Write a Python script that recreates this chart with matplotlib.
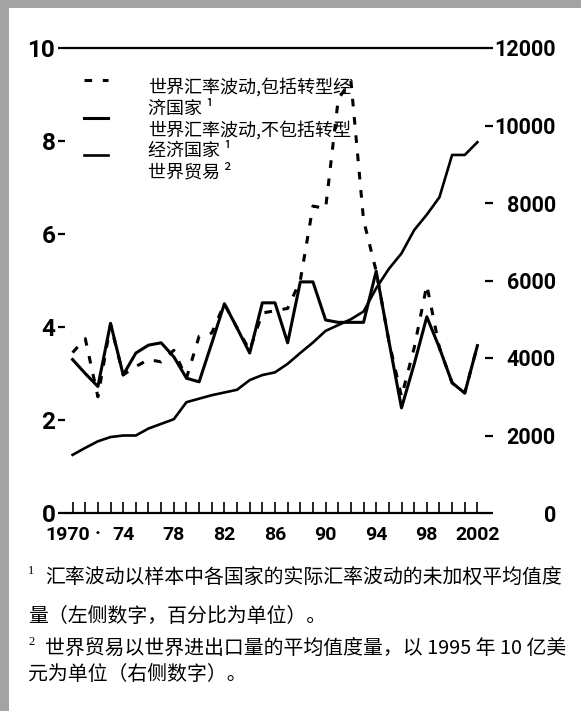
import matplotlib.pyplot as plt
from matplotlib.patches import Rectangle
from matplotlib.transforms import ScaledTranslation

plt.rcParams['font.family'] = ['Noto Sans CJK SC', 'DejaVu Sans']

# yearly values
years = list(range(1970, 2003))

# exchange rate volatility incl. transition economies (left axis, %)
fx_incl = [3.45, 3.75, 2.5, 4.05, 2.97, 3.15, 3.3, 3.25, 3.5, 2.9,
           3.8, 3.87, 4.5, 3.98, 3.5, 4.3, 4.35, 4.4, 5.0, 6.6,
           6.55, 8.9, 9.3, 6.3, 5.2, 3.7, 2.5, 3.55, 4.9, 3.55,
           2.8, 2.58, 3.6]

# exchange rate volatility excl. transition economies (left axis, %)
fx_excl = [3.3, 3.0, 2.72, 4.08, 2.97, 3.44, 3.61, 3.66, 3.36, 2.9,
           2.82, 3.65, 4.5, 3.98, 3.44, 4.52, 4.52, 3.66, 4.97, 4.97,
           4.15, 4.1, 4.1, 4.1, 5.2, 3.7, 2.26, 3.2, 4.22, 3.55,
           2.8, 2.58, 3.6]

# world trade (right axis, bn 1995 USD)
trade = [1500, 1680, 1850, 1960, 2000, 2000, 2180, 2300, 2420, 2860,
         2950, 3040, 3110, 3180, 3430, 3560, 3630, 3850, 4130, 4400,
         4700, 4850, 5000, 5200, 5800, 6300, 6700, 7300, 7700, 8150,
         9240, 9240, 9570]

left_ticks = [0, 2, 4, 6, 8, 10]
right_ticks = [0, 2000, 4000, 6000, 8000, 10000, 12000]
year_labels = {1970: '1970', 1972: '·', 1974: '74', 1978: '78', 1982: '82',
               1986: '86', 1990: '90', 1994: '94', 1998: '98', 2002: '2002'}

legend_text = ('世界汇率波动,包括转型经\n济国家 ¹\n'
               '世界汇率波动,不包括转型\n经济国家 ¹\n'
               '世界贸易 ²')

notes = [('1', '汇率波动以样本中各国家的实际汇率波动的未加权平均值度'),
         ('', '量（左侧数字，百分比为单位）。'),
         ('2', '世界贸易以世界进出口量的平均值度量，以 1995 年 10 亿美'),
         ('', '元为单位（右侧数字）。')]
note_y = [577, 617, 648, 675]

num_font = ['Roboto', 'DejaVu Sans']

W, H = 581, 711
fig = plt.figure(figsize=(W / 100, H / 100), dpi=100)
fig.patch.set_facecolor('white')

# grey scan border
fig.add_artist(Rectangle((0, 0), 9 / W, 1, transform=fig.transFigure,
                         color='#a3a3a3', lw=0))
fig.add_artist(Rectangle((0, 1 - 8 / H), 1, 8 / H, transform=fig.transFigure,
                         color='#a3a3a3', lw=0))

ax = fig.add_axes([65 / W, 1 - 513 / H, 420 / W, 465 / H])
ax2 = ax.twinx()

dash = (2.5, 3.5)
l1, = ax.plot(years, fx_incl, color='k', lw=2.2, dashes=dash)
l2, = ax.plot(years, fx_excl, color='k', lw=2.2)
l3, = ax2.plot(years, trade, color='k', lw=1.9)

ax.set_xlim(1969.4, 2002.6)
ax.set_ylim(0, 10)
ax2.set_ylim(0, 12000)

for a in (ax, ax2):
    for s in ('left', 'right'):
        a.spines[s].set_visible(False)
ax2.spines['top'].set_visible(False)
ax2.spines['bottom'].set_visible(False)
ax.spines['top'].set_linewidth(1.6)
ax.spines['bottom'].set_linewidth(1.6)

ax.set_yticks(left_ticks, [str(v) for v in left_ticks],
              fontsize=17.5, fontweight='bold', family=num_font)
ax.tick_params(axis='y', length=5, width=1.6, pad=2)

ax2.set_yticks(right_ticks, [str(v) for v in right_ticks],
               fontsize=15.5, fontweight='bold', family=num_font, ha='right')
ax2.tick_params(axis='y', length=6, width=1.6, pad=45)

ax.set_xticks(years, [year_labels.get(y, '') for y in years],
              fontsize=14, fontweight='bold', family=num_font)
ax.tick_params(axis='x', direction='in', length=8, width=1.2, pad=9)
# the first year label sits a little left of its tick in the scan
first = ax.get_xticklabels()[0]
first.set_transform(first.get_transform()
                    + ScaledTranslation(-5 / 100, 0, fig.dpi_scale_trans))

# line samples only; the key text is set as a separate block like the scan
leg = ax.legend([l1, l2, l3], [' ', ' ', ' '], loc='upper left',
                bbox_to_anchor=(0.028, 0.964), frameon=False, fontsize=13,
                handlelength=1.35, handletextpad=0.2, labelspacing=1.1,
                borderaxespad=0)
ax.text((148 - 65) / 420, (513 - 78) / 465, legend_text, transform=ax.transAxes,
        fontsize=13, va='top', ha='left', linespacing=1.2)

for (sup, txt), y in zip(notes, note_y):
    if sup:
        fig.text(28 / W, 1 - (y - 6) / H, sup, fontsize=9, va='center',
                 family=['Liberation Serif', 'DejaVu Serif'])
        fig.text(45 / W, 1 - y / H, txt, fontsize=14.3, va='center')
    else:
        fig.text(28 / W, 1 - y / H, txt, fontsize=14.3, va='center')

fig.savefig('out.png', dpi=100)
